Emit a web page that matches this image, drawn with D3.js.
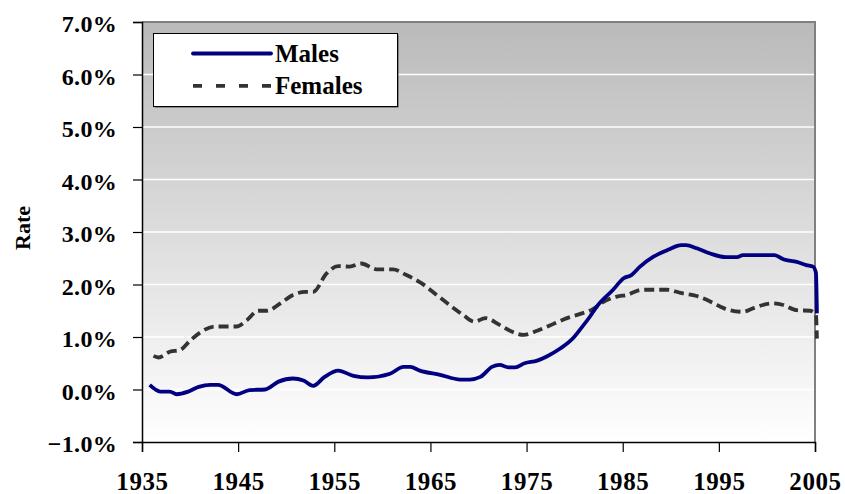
<!DOCTYPE html>
<html>
<head>
<meta charset="utf-8">
<script src="https://cdn.jsdelivr.net/npm/d3@7"></script>
<style>
  body { margin: 0; background: #fff; }
  text { font-family: 'Liberation Serif', 'Times New Roman', serif; font-weight: bold; fill: #000; }
</style>
</head>
<body>
<div id="chart"></div>
<script>
// values (rate in %)
const maleYears = [1935.8, 1936.4, 1936.9, 1937.9, 1938.6, 1939.8, 1940.9, 1942.1, 1942.9, 1944.85,
  1946.2, 1947.8, 1949.2, 1950.7, 1951.8, 1952.8, 1954.0, 1955.4, 1957.0, 1958.5,
  1960.8, 1962.2, 1962.9, 1963.9, 1966.0, 1968.1, 1969.1, 1970.2, 1971.4, 1972.2,
  1973.1, 1973.8, 1974.8, 1976.1, 1977.1, 1978.5, 1979.9, 1980.6, 1981.6, 1982.3,
  1984.0, 1985.1, 1985.9, 1986.8, 1988.2, 1989.7, 1991.1, 1991.6, 1992.7, 1994.1,
  1995.8, 1996.9, 1997.5, 2000.8, 2001.7, 2003.1, 2004.1, 2004.8, 2005.1, 2005.2]
const maleRates = [0.09, 0.0, -0.04, -0.04, -0.09, -0.04, 0.05, 0.09, 0.09, -0.09,
  -0.01, 0.0, 0.15, 0.21, 0.17, 0.07, 0.24, 0.36, 0.26, 0.23,
  0.30, 0.43, 0.43, 0.36, 0.28, 0.19, 0.19, 0.24, 0.43, 0.47,
  0.42, 0.42, 0.50, 0.55, 0.63, 0.78, 0.99, 1.15, 1.39, 1.58,
  1.90, 2.12, 2.18, 2.34, 2.53, 2.66, 2.75, 2.75, 2.69, 2.59,
  2.52, 2.52, 2.56, 2.56, 2.48, 2.43, 2.37, 2.34, 2.22, 1.45]

const femaleYears = [1936.2, 1936.7, 1937.9, 1938.95, 1940.0, 1941.0, 1942.6, 1944.85, 1945.9, 1947.1,
  1948.0, 1949.4, 1950.7, 1952.0, 1952.8, 1954.2, 1955.4, 1956.6, 1957.8, 1959.4,
  1961.1, 1962.5, 1964.1, 1965.65, 1967.2, 1968.4, 1969.6, 1970.7, 1972.2, 1973.5,
  1974.7, 1976.1, 1977.8, 1979.2, 1980.6, 1981.9, 1983.0, 1984.4, 1985.4, 1987.0,
  1989.6, 1991.0, 1992.7, 1994.4, 1995.5, 1997.5, 1998.6, 2000.5, 2001.7, 2003.1,
  2004.5, 2005.1, 2005.2]
const femaleRates = [0.64, 0.61, 0.72, 0.75, 0.93, 1.08, 1.20, 1.20, 1.32, 1.50,
  1.50, 1.64, 1.80, 1.86, 1.86, 2.21, 2.35, 2.34, 2.40, 2.29,
  2.29, 2.18, 2.02, 1.80, 1.58, 1.42, 1.29, 1.36, 1.23, 1.10,
  1.04, 1.12, 1.25, 1.36, 1.44, 1.53, 1.67, 1.77, 1.80, 1.90,
  1.90, 1.84, 1.78, 1.65, 1.55, 1.48, 1.55, 1.64, 1.61, 1.51,
  1.50, 1.42, 0.97]

const yTicks = [-1, 0, 1, 2, 3, 4, 5, 6, 7]
const xTicks = [1935, 1945, 1955, 1965, 1975, 1985, 1995, 2005]
const seriesNames = ['Males', 'Females']

const width = 845
const height = 494
const plot = { left: 142, right: 815, top: 22, bottom: 442 }

const svg = d3
  .select('#chart')
  .append('svg')
  .attr('width', width)
  .attr('height', height)

const x = d3.scaleLinear().domain([1935, 2005]).range([plot.left, plot.right])
const y = d3.scaleLinear().domain([-1, 7]).range([plot.bottom, plot.top])

// grey-to-white plot background
const grad = svg.append('defs').append('linearGradient')
  .attr('id', 'bg')
  .attr('x1', 0).attr('y1', 0).attr('x2', 0).attr('y2', 1)
grad.append('stop').attr('offset', '0%').attr('stop-color', '#bababa')
grad.append('stop').attr('offset', '100%').attr('stop-color', '#ffffff')

svg.append('rect')
  .attr('x', plot.left)
  .attr('y', plot.top)
  .attr('width', plot.right - plot.left)
  .attr('height', plot.bottom - plot.top)
  .attr('fill', 'url(#bg)')

// white gridlines
svg.append('g')
  .selectAll('line')
  .data(yTicks.filter((t) => t > -1 && t < 7))
  .enter()
  .append('line')
  .attr('x1', plot.left)
  .attr('x2', plot.right)
  .attr('y1', (d) => y(d))
  .attr('y2', (d) => y(d))
  .attr('stroke', '#ffffff')
  .attr('stroke-width', 1.5)

// frame top / right in grey
svg.append('path')
  .attr('d', `M${plot.left},${plot.top}H${plot.right}V${plot.bottom}`)
  .attr('fill', 'none')
  .attr('stroke', '#808080')
  .attr('stroke-width', 2)

// y axis
const yAxis = svg.append('g')
  .attr('transform', `translate(${plot.left},0)`)
  .call(d3.axisLeft(y).tickValues(yTicks).tickSize(9).tickFormat((d) => d3.format('.1f')(d) + '%'))
yAxis.attr('font-family', null)
yAxis.select('.domain').attr('stroke', '#000').attr('stroke-width', 1.5)
yAxis.selectAll('.tick line').attr('stroke', '#000').attr('stroke-width', 1.2)
yAxis.selectAll('.tick text')
  .attr('x', -25)
  .attr('dy', 9.8)
  .attr('font-size', 24)
  .attr('letter-spacing', 0.3)
  .attr('fill', '#000')

// x axis
const xAxis = svg.append('g')
  .attr('transform', `translate(0,${plot.bottom})`)
  .call(d3.axisBottom(x).tickValues(xTicks).tickSize(10).tickFormat(d3.format('d')))
xAxis.attr('font-family', null)
xAxis.select('.domain').attr('stroke', '#000').attr('stroke-width', 1.5)
xAxis.selectAll('.tick line').attr('stroke', '#000').attr('stroke-width', 1.2)
xAxis.selectAll('.tick text')
  .attr('y', 48)
  .attr('dy', 0)
  .attr('font-size', 25)
  .attr('letter-spacing', 0.6)
  .attr('fill', '#000')

// axis title
svg.append('text')
  .attr('transform', 'translate(30,228) rotate(-90)')
  .attr('text-anchor', 'middle')
  .attr('font-size', 22)
  .text('Rate')

const line = d3.line()
  .x((d) => x(d[0]))
  .y((d) => y(d[1]))
  .curve(d3.curveMonotoneX)

const males = d3.zip(maleYears, maleRates)
const females = d3.zip(femaleYears, femaleRates)

svg.append('path')
  .datum(females)
  .attr('d', line)
  .attr('fill', 'none')
  .attr('stroke', '#333333')
  .attr('stroke-width', 3.8)
  .attr('stroke-dasharray', '10,5')

svg.append('path')
  .datum(males)
  .attr('d', line)
  .attr('fill', 'none')
  .attr('stroke', '#000080')
  .attr('stroke-width', 3.8)
  .attr('stroke-linejoin', 'round')

// legend
const legend = svg.append('g')
legend.append('rect')
  .attr('x', 154.5)
  .attr('y', 34.5)
  .attr('width', 244)
  .attr('height', 73)
  .attr('fill', '#444')
legend.append('rect')
  .attr('x', 153.5)
  .attr('y', 33.5)
  .attr('width', 244)
  .attr('height', 73)
  .attr('fill', '#fff')
  .attr('stroke', '#000')
  .attr('stroke-width', 1)

const legendStyles = [
  { color: '#000080', dash: null },
  { color: '#333333', dash: '9,14' },
]
seriesNames.forEach((name, i) => {
  const ly = 53.5 + i * 32.3
  legend.append('line')
    .attr('x1', 193)
    .attr('x2', 271)
    .attr('y1', ly)
    .attr('y2', ly)
    .attr('stroke', legendStyles[i].color)
    .attr('stroke-width', 3.8)
    .attr('stroke-linecap', i === 0 ? 'round' : 'butt')
    .attr('stroke-dasharray', legendStyles[i].dash)
  legend.append('text')
    .attr('x', 275)
    .attr('y', ly + 8.5)
    .attr('font-size', 25)
    .text(name)
})
</script>
</body>
</html>
